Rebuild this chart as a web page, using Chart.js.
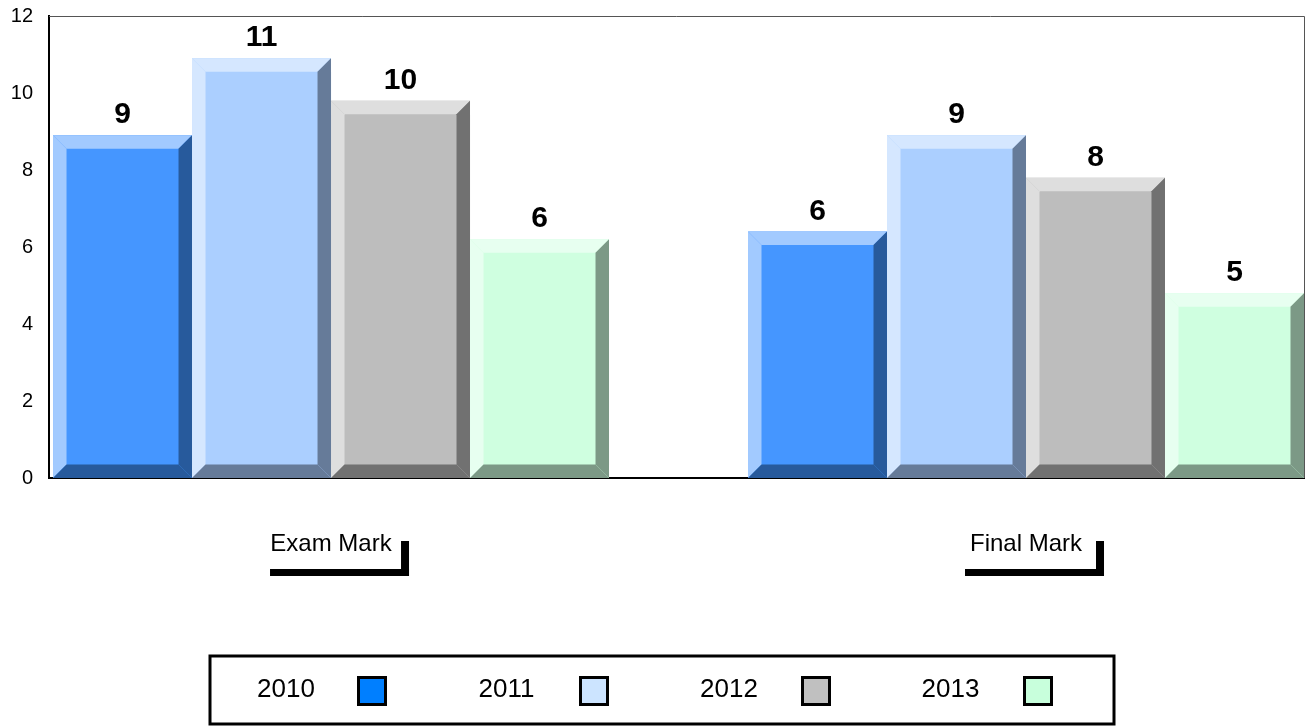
<!DOCTYPE html>
<html>
<head>
<meta charset="utf-8">
<script src="https://cdn.jsdelivr.net/npm/chart.js@4"></script>
<style>
  html, body { margin: 0; padding: 0; background: #fff; }
  #wrap { width: 1310px; height: 726px; }
</style>
</head>
<body>
<div id="wrap"><canvas id="marksChart" width="1310" height="726"></canvas></div>
<script>
// data
const categories = ['Exam Mark', 'Final Mark'];
const categoryX = [0, 1];
const years = ['2010', '2011', '2012', '2013'];
const marks2010 = [8.9, 6.4];
const marks2011 = [10.9, 8.9];
const marks2012 = [9.8, 7.8];
const marks2013 = [6.2, 4.8];
const yTicks = [0, 2, 4, 6, 8, 10, 12];

// colours for bar face, bevel light, bevel dark and the legend swatch
const faceColors = ['#4596ff', '#abcfff', '#bdbdbd', '#cfffe0'];
const lightColors = ['#a2caff', '#d5e7ff', '#dedede', '#e7fff0'];
const darkColors = ['#275a9c', '#667b99', '#717171', '#7c9986'];
const legendColors = ['#007fff', '#cce4ff', '#c0c0c0', '#c8ffdc'];

const FONT = "'Liberation Sans', Arial, sans-serif";
Chart.defaults.font.family = FONT;
Chart.defaults.color = '#000';

const seriesValues = [marks2010, marks2011, marks2012, marks2013];

const datasets = years.map((year, i) => ({
    label: year,
    data: seriesValues[i].map((v, j) => ({ x: categoryX[j], y: v })),
    backgroundColor: faceColors[i],
    borderWidth: 0,
    categoryPercentage: 0.8,
    barPercentage: 1.0,
}));

function polygon(ctx, pts, color) {
    ctx.beginPath();
    ctx.moveTo(pts[0][0], pts[0][1]);
    for (let k = 1; k < pts.length; k++) ctx.lineTo(pts[k][0], pts[k][1]);
    ctx.closePath();
    ctx.fillStyle = color;
    ctx.fill();
}

// bevelled edges + value labels on top of every bar
const bevelPlugin = {
    id: 'bevel',
    afterDatasetsDraw(chart) {
        const ctx = chart.ctx;
        const b = 13.5;
        ctx.save();
        chart.data.datasets.forEach((ds, i) => {
            const meta = chart.getDatasetMeta(i);
            meta.data.forEach((bar, j) => {
                const p = bar.getProps(['x', 'y', 'width', 'base'], true);
                const L = p.x - p.width / 2, R = p.x + p.width / 2, T = p.y, B = p.base;
                polygon(ctx, [[L, T], [L + b, T + b], [L + b, B - b], [L, B]], lightColors[i]);
                polygon(ctx, [[L, T], [R, T], [R - b, T + b], [L + b, T + b]], lightColors[i]);
                polygon(ctx, [[R, T], [R, B], [R - b, B - b], [R - b, T + b]], darkColors[i]);
                polygon(ctx, [[L, B], [R, B], [R - b, B - b], [L + b, B - b]], darkColors[i]);

                ctx.fillStyle = '#000';
                ctx.font = 'bold 30px ' + FONT;
                ctx.textAlign = 'center';
                ctx.textBaseline = 'alphabetic';
                ctx.fillText(String(Math.round(seriesValues[i][j])), p.x, T - 12);
            });
        });
        ctx.restore();
    }
};

// thin frame on top/right, bracket under category labels, boxed legend
const decorPlugin = {
    id: 'decor',
    afterDraw(chart) {
        const ctx = chart.ctx;
        const a = chart.chartArea;
        ctx.save();
        ctx.strokeStyle = '#555';
        ctx.lineWidth = 1;
        ctx.beginPath();
        ctx.moveTo(a.left, a.top + 0.5);
        ctx.lineTo(a.right + 0.5, a.top + 0.5);
        ctx.lineTo(a.right + 0.5, a.bottom);
        ctx.stroke();

        const xs = chart.scales.x;
        ctx.fillStyle = '#000';
        categoryX.forEach(v => {
            const c = xs.getPixelForValue(v);
            const left = c - 61, right = c + 78;
            ctx.fillRect(left, 569, right - left, 7);
            ctx.fillRect(right - 8, 541, 8, 35);
        });

        // legend box
        ctx.strokeStyle = '#000';
        ctx.lineWidth = 3;
        ctx.strokeRect(210, 656, 904, 68);
        ctx.font = '26px ' + FONT;
        ctx.textAlign = 'left';
        ctx.textBaseline = 'middle';
        years.forEach((year, i) => {
            const tx = 257 + i * 221.5;
            const sx = 357 + i * 222;
            ctx.fillStyle = '#000';
            ctx.fillText(year, tx, 690);
            ctx.fillStyle = legendColors[i];
            ctx.fillRect(sx, 676, 30, 30);
            ctx.lineWidth = 3;
            ctx.strokeRect(sx + 1.5, 677.5, 27, 27);
        });
        ctx.restore();
    }
};

const ctx = document.getElementById('marksChart').getContext('2d');
const marksChart = new Chart(ctx, {
    type: 'bar',
    data: { datasets: datasets },
    options: {
        responsive: false,
        animation: false,
        layout: { padding: { top: 16, right: 6, left: 0, bottom: 0 } },
        plugins: {
            legend: { display: false },
            tooltip: { enabled: false },
        },
        scales: {
            x: {
                type: 'linear',
                offset: false,
                min: -0.4058,
                max: 1.4,
                grid: { display: false, drawTicks: false },
                border: { display: true, color: '#000', width: 2 },
                afterBuildTicks: scale => { scale.ticks = categoryX.map(v => ({ value: v })); },
                afterFit: scale => {
                    scale.height = 248;
                    scale.paddingLeft = 0;
                    scale.paddingRight = 0;
                },
                ticks: {
                    padding: 52,
                    autoSkip: false,
                    maxRotation: 0,
                    font: { size: 24 },
                    callback: (value, index) => categories[index],
                },
            },
            y: {
                min: 0,
                max: 12,
                grid: { display: false, drawTicks: false },
                border: { display: true, color: '#000', width: 2 },
                afterBuildTicks: scale => { scale.ticks = yTicks.map(v => ({ value: v })); },
                afterFit: scale => {
                    scale.width = 49;
                    scale.paddingTop = 0;
                    scale.paddingBottom = 0;
                },
                ticks: {
                    padding: 16,
                    font: { size: 20 },
                },
            },
        },
    },
    plugins: [bevelPlugin, decorPlugin],
});
</script>
</body>
</html>
